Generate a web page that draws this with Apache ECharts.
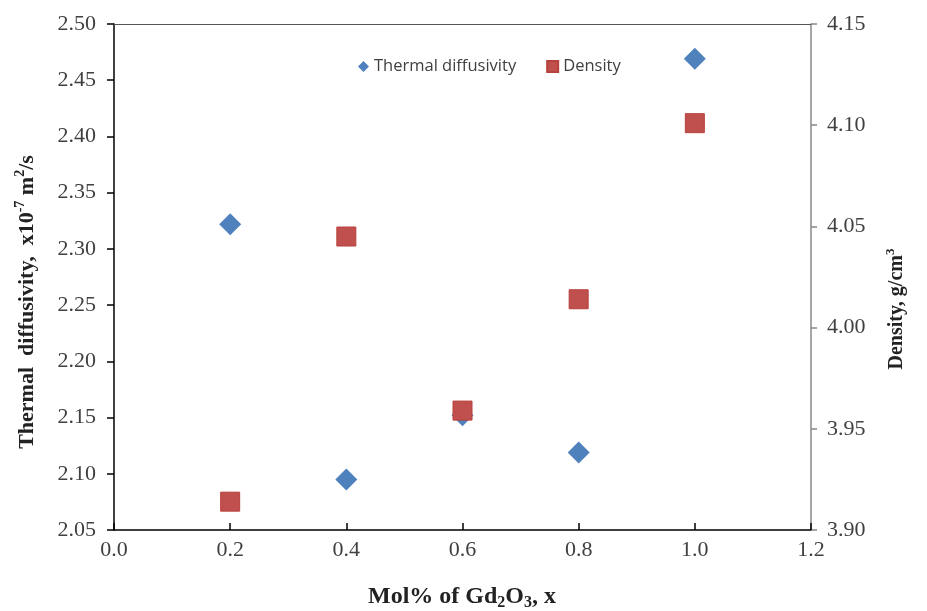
<!DOCTYPE html>
<html>
<head>
<meta charset="utf-8">
<script src="https://cdn.jsdelivr.net/npm/echarts@6/dist/echarts.min.js"></script>
<style>html,body{margin:0;padding:0;background:#fff}#c{width:927px;height:611px}</style>
</head>
<body>
<div id="c"></div>
<script>
const xValues = [0.2, 0.4, 0.6, 0.8, 1.0];
const thermalDiffusivity = [2.322, 2.095, 2.152, 2.119, 2.469];
const density = [3.914, 4.045, 3.959, 4.014, 4.101];
const seriesNames = ['Thermal diffusivity', 'Density'];

const serif = '"Liberation Serif", "Times New Roman", serif';
const chart = echarts.init(document.getElementById('c'));
chart.setOption({
  animation: false,
  backgroundColor: '#fff',
  grid: { left: 114, right: 116, top: 24, bottom: 81 },
  legend: {
    left: 353, top: 53,
    itemWidth: 11, itemHeight: 11, itemGap: 30,
    textStyle: { fontFamily: '"Open Sans", sans-serif', fontSize: 16.5, color: '#404040' },
    data: [
      { name: seriesNames[0], icon: 'diamond' },
      { name: seriesNames[1], icon: 'rect' }
    ]
  },
  xAxis: [{
    type: 'value', min: 0, max: 1.2, interval: 0.2,
    axisLine: { show: true, onZero: false, lineStyle: { color: '#000', width: 1.5 } },
    axisTick: { show: true, inside: true, length: 7, lineStyle: { color: '#000', width: 1.5 } },
    axisLabel: { formatter: v => v.toFixed(1), fontFamily: serif, fontSize: 22, color: '#404040', margin: 9 },
    splitLine: { show: false }
  }, {
    type: 'value', min: 0, max: 1.2, position: 'top',
    axisLine: { show: true, lineStyle: { color: '#555', width: 1.2 } },
    axisTick: { show: false }, axisLabel: { show: false }, splitLine: { show: false }
  }],
  yAxis: [{
    type: 'value', min: 2.05, max: 2.5, interval: 0.05, position: 'left',
    axisLine: { show: true, onZero: false, lineStyle: { color: '#000', width: 1.5 } },
    axisTick: { show: true, length: 7, lineStyle: { color: '#000', width: 1.5 } },
    axisLabel: { formatter: v => v.toFixed(2), fontFamily: serif, fontSize: 22, color: '#404040', margin: 18 },
    splitLine: { show: false }
  }, {
    type: 'value', min: 3.9, max: 4.15, interval: 0.05, position: 'right',
    axisLine: { show: true, onZero: false, lineStyle: { color: '#888', width: 1.5 } },
    axisTick: { show: true, length: 6, lineStyle: { color: '#888', width: 1.5 } },
    axisLabel: { formatter: v => v.toFixed(2), fontFamily: serif, fontSize: 22, color: '#404040', margin: 16 },
    splitLine: { show: false }
  }],
  series: [{
    name: seriesNames[0], type: 'scatter', yAxisIndex: 0,
    symbol: 'diamond', symbolSize: [22, 22],
    itemStyle: { color: '#4F81BD', opacity: 1 },
    data: xValues.map((x, i) => [x, thermalDiffusivity[i]])
  }, {
    name: seriesNames[1], type: 'scatter', yAxisIndex: 1,
    symbol: 'rect', symbolSize: [19, 19],
    itemStyle: { color: '#C0504D', borderColor: '#B8403D', borderWidth: 1, opacity: 1 },
    data: xValues.map((x, i) => [x, density[i]])
  }],
  graphic: [{
    type: 'text', x: 462, y: 597,
    style: {
      text: '{b|Mol% of Gd}{s|2}{b|O}{s|3}{b|, x}',
      align: 'center', verticalAlign: 'middle',
      rich: {
        b: { fontFamily: serif, fontWeight: 'bold', fontSize: 24, fill: '#222' },
        s: { fontFamily: serif, fontWeight: 'bold', fontSize: 16, fill: '#222', padding: [11, 0, 0, 0] }
      }
    }
  }, {
    type: 'text', x: 27, y: 302, rotation: Math.PI / 2,
    style: {
      text: '{b|Thermal  diffusivity,  x10}{p|-7}{b| m}{p|2}{b|/s}',
      align: 'center', verticalAlign: 'middle',
      rich: {
        b: { fontFamily: serif, fontWeight: 'bold', fontSize: 22, fill: '#222' },
        p: { fontFamily: serif, fontWeight: 'bold', fontSize: 14, fill: '#222', padding: [0, 0, 13, 0] }
      }
    }
  }, {
    type: 'text', x: 897, y: 309, rotation: Math.PI / 2,
    style: {
      text: '{b|Density, g/cm}{p|3}',
      align: 'center', verticalAlign: 'middle',
      rich: {
        b: { fontFamily: serif, fontWeight: 'bold', fontSize: 20, fill: '#222' },
        p: { fontFamily: serif, fontWeight: 'bold', fontSize: 13, fill: '#222', padding: [0, 0, 12, 0] }
      }
    }
  }]
});
</script>
</body>
</html>
